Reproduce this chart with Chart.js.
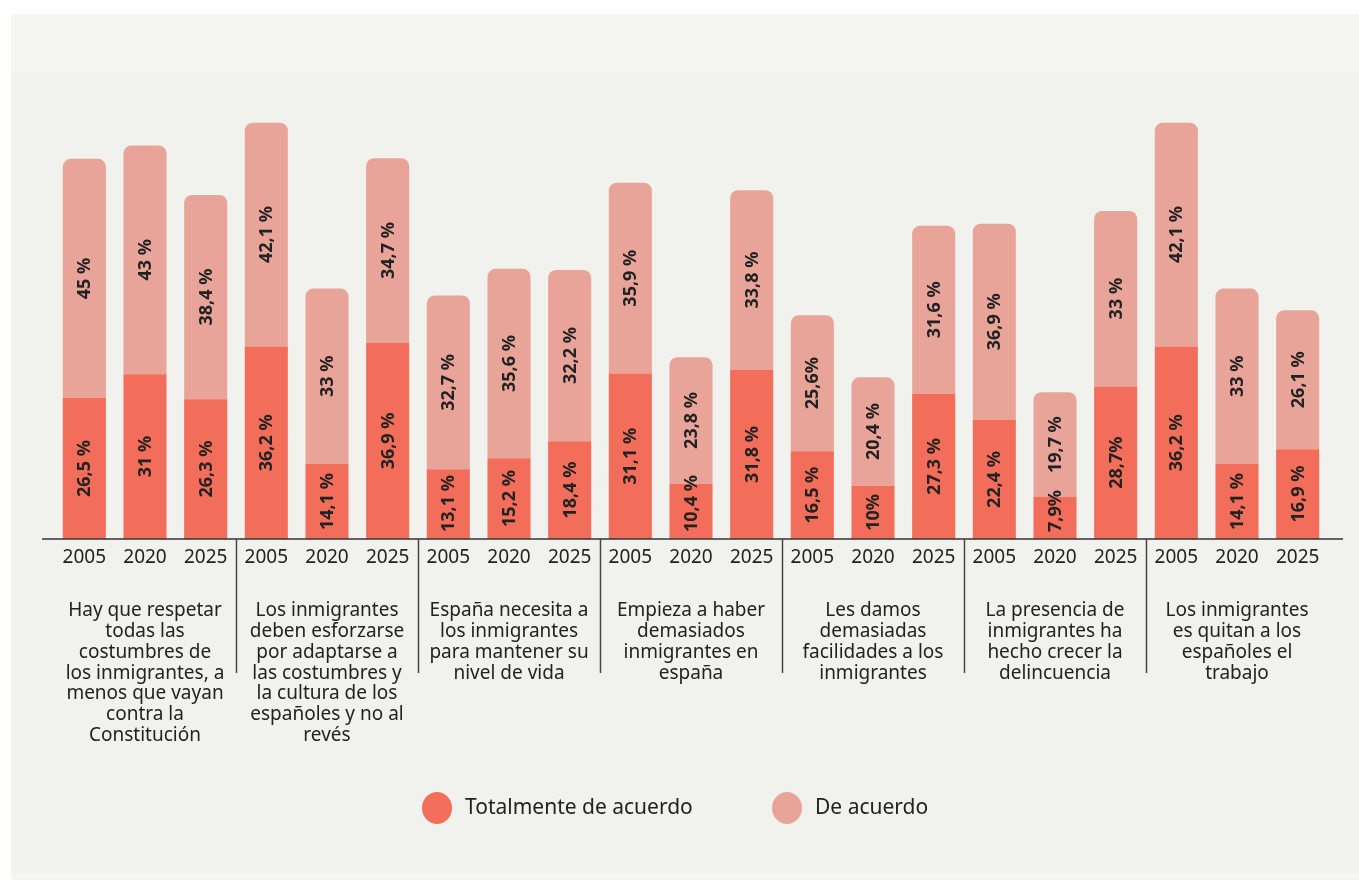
<!DOCTYPE html>
<html>
<head>
<meta charset="utf-8">
<script src="https://cdn.jsdelivr.net/npm/chart.js@4/dist/chart.umd.min.js"></script>
<style>
  html, body { margin: 0; padding: 0; background: #fff; }
  canvas { display: block; }
</style>
</head>
<body>
<canvas id="chart" width="1359" height="880"></canvas>
<script>
const years = ['2005', '2020', '2025'];
const groups = [
  ['Hay que respetar', 'todas las', 'costumbres de', 'los inmigrantes, a', 'menos que vayan', 'contra la', 'Constitución'],
  ['Los inmigrantes', 'deben esforzarse', 'por adaptarse a', 'las costumbres y', 'la cultura de los', 'españoles y no al', 'revés'],
  ['España necesita a', 'los inmigrantes', 'para mantener su', 'nivel de vida'],
  ['Empieza a haber', 'demasiados', 'inmigrantes en', 'españa'],
  ['Les damos', 'demasiadas', 'facilidades a los', 'inmigrantes'],
  ['La presencia de', 'inmigrantes ha', 'hecho crecer la', 'delincuencia'],
  ['Los inmigrantes', 'es quitan a los', 'españoles el', 'trabajo']
];
const totalmente = [26.5, 31, 26.3, 36.2, 14.1, 36.9, 13.1, 15.2, 18.4, 31.1, 10.4, 31.8, 16.5, 10, 27.3, 22.4, 7.9, 28.7, 36.2, 14.1, 16.9];
const deAcuerdo = [45, 43, 38.4, 42.1, 33, 34.7, 32.7, 35.6, 32.2, 35.9, 23.8, 33.8, 25.6, 20.4, 31.6, 36.9, 19.7, 33, 42.1, 33, 26.1];
// labels printed without the space before "%"
const noSpaceBottom = [13, 16, 17];
const noSpaceTop = [12];

const seriesNames = ['Totalmente de acuerdo', 'De acuerdo'];
const colors = ['#f26e5a', '#e8a498'];

const labels = [];
groups.forEach(() => years.forEach(y => labels.push(y)));

const FONT = '"Noto Sans", "Open Sans", sans-serif';
const TEXT = '#222';

function fmt(v, noSpace) {
  return String(v).replace('.', ',') + (noSpace ? '%' : ' %');
}

const backgroundPlugin = {
  id: 'bg',
  beforeDraw(chart) {
    const c = chart.ctx;
    c.save();
    c.fillStyle = '#ffffff';
    c.fillRect(0, 0, chart.width, chart.height);
    c.fillStyle = '#f5f5f1';
    c.fillRect(11, 14, chart.width - 11, 58);
    c.fillStyle = '#f1f2ed';
    c.fillRect(11, 72, chart.width - 11, 801);
    c.fillStyle = '#f5f5f1';
    c.fillRect(11, 873, chart.width - 11, 7);
    c.restore();
  }
};

const axisPlugin = {
  id: 'axisText',
  afterDraw(chart) {
    const c = chart.ctx;
    const x = chart.scales.x;
    const base = chart.scales.y.getPixelForValue(0);
    c.save();
    // baseline
    c.strokeStyle = '#333';
    c.lineWidth = 1.5;
    c.beginPath();
    c.moveTo(42, base);
    c.lineTo(1343, base);
    c.stroke();
    // separators between groups
    c.strokeStyle = '#444';
    for (let g = 1; g < groups.length; g++) {
      const sx = Math.round((x.getPixelForValue(g * 3 - 1) + x.getPixelForValue(g * 3)) / 2) + 0.5;
      c.beginPath();
      c.moveTo(sx, base);
      c.lineTo(sx, base + 134);
      c.stroke();
    }
    // years
    c.fillStyle = TEXT;
    c.textAlign = 'center';
    c.textBaseline = 'middle';
    c.font = '19px ' + FONT;
    labels.forEach((l, i) => c.fillText(l, x.getPixelForValue(i), base + 19));
    // group texts
    groups.forEach((lines, g) => {
      const gx = x.getPixelForValue(g * 3 + 1);
      lines.forEach((line, k) => c.fillText(line, gx, base + 72 + k * 20.7));
    });
    // legend
    c.font = '21px ' + FONT;
    c.textAlign = 'left';
    const legendX = [437, 787];
    seriesNames.forEach((name, i) => {
      c.fillStyle = colors[i];
      c.beginPath();
      c.ellipse(legendX[i], 808, 15, 16, 0, 0, Math.PI * 2);
      c.fill();
      c.fillStyle = TEXT;
      c.fillText(name, legendX[i] + 28, 808);
    });
    c.restore();
  }
};

const valuePlugin = {
  id: 'values',
  afterDatasetsDraw(chart) {
    const c = chart.ctx;
    c.save();
    c.font = 'bold 18px ' + FONT;
    c.fillStyle = TEXT;
    c.textAlign = 'center';
    c.textBaseline = 'middle';
    chart.data.datasets.forEach((ds, di) => {
      const meta = chart.getDatasetMeta(di);
      meta.data.forEach((bar, i) => {
        const ns = di === 0 ? noSpaceBottom.includes(i) : noSpaceTop.includes(i);
        const txt = fmt(ds.data[i], ns);
        const w = c.measureText(txt).width;
        let cy = (bar.y + bar.base) / 2;
        if (cy + w / 2 > bar.base - 7) cy = bar.base - 7 - w / 2;
        c.save();
        c.translate(bar.x + 1, cy);
        c.rotate(-Math.PI / 2);
        c.fillText(txt, 0, 0);
        c.restore();
      });
    });
    c.restore();
  }
};

new Chart(document.getElementById('chart').getContext('2d'), {
  type: 'bar',
  data: {
    labels: labels,
    datasets: [
      {
        label: seriesNames[0],
        data: totalmente,
        backgroundColor: colors[0],
        borderWidth: 0,
        borderRadius: 0,
        barPercentage: 0.71,
        categoryPercentage: 1
      },
      {
        label: seriesNames[1],
        data: deAcuerdo,
        backgroundColor: colors[1],
        borderWidth: 0,
        borderRadius: { topLeft: 8, topRight: 8, bottomLeft: 0, bottomRight: 0 },
        borderSkipped: false,
        barPercentage: 0.71,
        categoryPercentage: 1
      }
    ]
  },
  options: {
    responsive: false,
    animation: false,
    devicePixelRatio: 1,
    layout: { padding: { left: 54, right: 31, top: 87, bottom: 341 } },
    plugins: {
      legend: { display: false },
      tooltip: { enabled: false }
    },
    scales: {
      x: { stacked: true, display: false },
      y: { stacked: true, display: false, min: 0, max: 85 }
    }
  },
  plugins: [backgroundPlugin, axisPlugin, valuePlugin]
});
</script>
</body>
</html>
